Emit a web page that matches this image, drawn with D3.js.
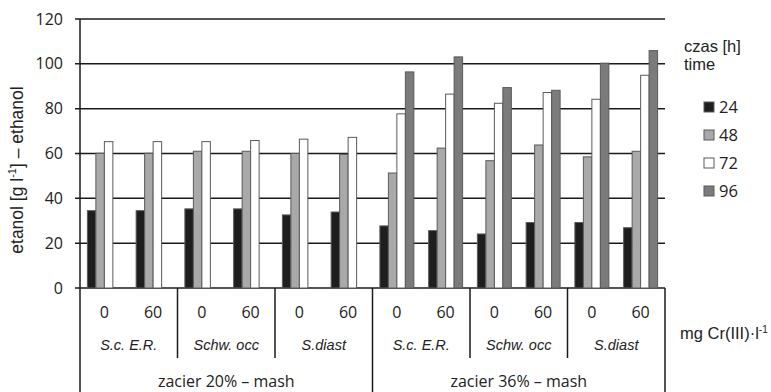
<!DOCTYPE html>
<html>
<head>
<meta charset="utf-8">
<script src="https://cdn.jsdelivr.net/npm/d3@7"></script>
<style>
  body { margin: 0; background: #fff; }
  svg { display: block; }
  .num { font-family: "Open Sans", sans-serif; font-size: 16px; fill: #222; }
  .txt { font-family: "Liberation Sans", Arial, sans-serif; fill: #222; }
</style>
</head>
<body>
<svg width="771" height="392"></svg>
<script>
// Data
const doses = ['0', '60', '0', '60', '0', '60', '0', '60', '0', '60', '0', '60'];
const strains = ['S.c. E.R.', 'Schw. occ', 'S.diast', 'S.c. E.R.', 'Schw. occ', 'S.diast'];
const mashes = ['zacier 20% \u2013 mash', 'zacier 36% \u2013 mash'];
const times = ['24', '48', '72', '96'];
const yTicks = [0, 20, 40, 60, 80, 100, 120];

const s24 = [34.5, 34.5, 35.3, 35.3, 32.6, 33.9, 27.7, 25.6, 24.1, 29.2, 29.2, 26.9];
const s48 = [60.1, 60.1, 61.0, 61.0, 60.0, 59.6, 51.3, 62.4, 56.8, 63.8, 58.5, 61.0];
const s72 = [65.3, 65.3, 65.3, 65.8, 66.4, 67.2, 77.7, 86.5, 82.4, 87.2, 84.2, 94.9];
const s96 = [null, null, null, null, null, null, 96.4, 103.1, 89.4, 88.2, 100.3, 105.9];

const series = [s24, s48, s72, s96];
const colors = ['#1e1e1e', '#a9a9a9', '#ffffff', '#7b7b7b'];

const svg = d3.select('svg');

const pLeft = 80, pRight = 665, pTop = 19, pBase = 288, pBottom = 392;

const x0 = d3.scaleBand()
  .domain(d3.range(doses.length))
  .range([pLeft, pRight]);

const x1 = d3.scaleBand()
  .domain(times)
  .range([0, x0.bandwidth()])
  .paddingOuter(0.87);

const y = d3.scaleLinear()
  .domain([0, 120])
  .range([pBase, pTop]);

// Grid
svg.append('g')
  .selectAll('line')
  .data(yTicks)
  .enter()
  .append('line')
    .attr('x1', pLeft - 5)
    .attr('x2', pRight)
    .attr('y1', d => y(d))
    .attr('y2', d => y(d))
    .attr('stroke', '#1a1a1a')
    .attr('stroke-width', 1.5);

svg.append('g')
  .selectAll('text')
  .data(yTicks)
  .enter()
  .append('text')
    .attr('class', 'num')
    .attr('x', pLeft - 17)
    .attr('y', d => y(d) + 5.5)
    .attr('text-anchor', 'end')
    .text(d => d);

// Bars
const bars = [];
series.forEach((s, k) => s.forEach((v, i) => {
  if (v != null) bars.push({ i: i, t: times[k], v: v, c: colors[k] });
}));

svg.append('g')
  .selectAll('rect')
  .data(bars)
  .enter()
  .append('rect')
    .attr('x', d => x0(d.i) + x1(d.t))
    .attr('y', d => y(d.v))
    .attr('width', x1.bandwidth())
    .attr('height', d => pBase - y(d.v))
    .attr('fill', d => d.c)
    .attr('stroke', '#5a5a5a')
    .attr('stroke-width', 1);

// Table below the axis
const tbl = svg.append('g')
  .attr('stroke', '#1a1a1a')
  .attr('stroke-width', 1.5);

tbl.append('line')
  .attr('x1', pLeft).attr('x2', pLeft)
  .attr('y1', pTop).attr('y2', pBottom);

tbl.selectAll('.sep')
  .data([2, 4, 8, 10])
  .enter()
  .append('line')
    .attr('x1', d => x0(d)).attr('x2', d => x0(d))
    .attr('y1', pBase).attr('y2', 358);

tbl.selectAll('.msep')
  .data([6, 12])
  .enter()
  .append('line')
    .attr('x1', d => d < 12 ? x0(d) : pRight).attr('x2', d => d < 12 ? x0(d) : pRight)
    .attr('y1', pBase).attr('y2', pBottom);

svg.append('g')
  .selectAll('text')
  .data(doses)
  .enter()
  .append('text')
    .attr('class', 'num')
    .attr('x', (d, i) => x0(i) + x0.bandwidth() / 2)
    .attr('y', 318)
    .attr('text-anchor', 'middle')
    .text(d => d);

svg.append('g')
  .selectAll('text')
  .data(strains)
  .enter()
  .append('text')
    .attr('class', 'txt')
    .attr('x', (d, i) => x0(i * 2 + 1))
    .attr('y', 350)
    .attr('text-anchor', 'middle')
    .style('font-style', 'italic')
    .style('font-size', '14.5px')
    .text(d => d);

svg.append('g')
  .selectAll('text')
  .data(mashes)
  .enter()
  .append('text')
    .attr('class', 'num')
    .attr('x', (d, i) => i == 0 ? (pLeft + x0(6)) / 2 : (x0(6) + pRight) / 2)
    .attr('y', 387)
    .attr('text-anchor', 'middle')
    .text(d => d);

// Axis title
const ylab = svg.append('text')
  .attr('class', 'txt')
  .attr('transform', 'translate(23, 170) rotate(-90)')
  .attr('text-anchor', 'middle')
  .style('font-size', '17.5px');
ylab.append('tspan').text('etanol [g l');
ylab.append('tspan').attr('dy', -7).style('font-size', '11px').text('-1');
ylab.append('tspan').attr('dy', 7).text('] \u2013 ethanol');

const unit = svg.append('text')
  .attr('class', 'txt')
  .attr('x', 680)
  .attr('y', 339)
  .style('font-size', '16.5px');
unit.append('tspan').text('mg Cr(III)\u00b7l');
unit.append('tspan').attr('dy', -6).style('font-size', '10px').text('-1');

// Legend
svg.append('text')
  .attr('class', 'txt')
  .attr('x', 684).attr('y', 52)
  .style('font-size', '16.5px')
  .text('czas [h]');
svg.append('text')
  .attr('class', 'txt')
  .attr('x', 684).attr('y', 70)
  .style('font-size', '16.5px')
  .text('time');

const legend = svg.append('g')
  .selectAll('g')
  .data(times)
  .enter()
  .append('g')
    .attr('transform', (d, i) => `translate(704, ${102 + i * 28})`);

legend.append('rect')
  .attr('width', 10)
  .attr('height', 10)
  .attr('fill', (d, i) => colors[i])
  .attr('stroke', '#5a5a5a');

legend.append('text')
  .attr('class', 'num')
  .attr('x', 15)
  .attr('y', 11)
  .style('font-size', '16.5px')
  .text(d => d);
</script>
</body>
</html>
